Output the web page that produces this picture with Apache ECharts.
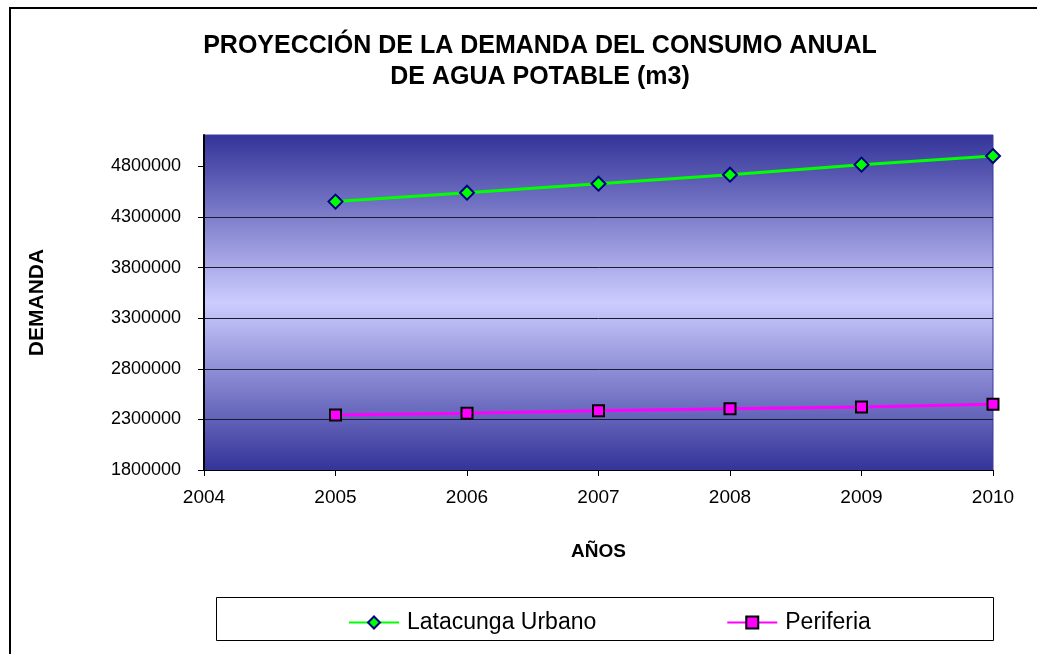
<!DOCTYPE html>
<html>
<head>
<meta charset="utf-8">
<title>Proyección de la demanda de agua potable</title>
<script src="https://cdn.jsdelivr.net/npm/echarts@6/dist/echarts.min.js"></script>
<style>
  html, body { margin: 0; padding: 0; background: #ffffff; }
  #chart { width: 1037px; height: 654px; }
</style>
</head>
<body>
<div id="chart"></div>
<script>
// Years of the projection
const years = [2005, 2006, 2007, 2008, 2009, 2010];
// Annual demand (m3)
const latacungaUrbano = [4452000, 4540000, 4629000, 4718000, 4817000, 4902000];
const periferia = [2344000, 2360000, 2385000, 2405000, 2423000, 2449000];
// Axis tick labels
const yTicks = [1800000, 2300000, 2800000, 3300000, 3800000, 4300000, 4800000];
const xTicks = [2004, 2005, 2006, 2007, 2008, 2009, 2010];

const FONT = '"Liberation Sans", Arial, sans-serif';

const chart = echarts.init(document.getElementById('chart'), null, { renderer: 'canvas' });

const plotBg = new echarts.graphic.LinearGradient(0, 0, 0, 1, [
  { offset: 0, color: '#333399' },
  { offset: 0.5, color: '#ccccff' },
  { offset: 1, color: '#333399' }
]);

chart.setOption({
  animation: false,
  backgroundColor: '#ffffff',
  textStyle: { fontFamily: FONT },
  title: {
    text: 'PROYECCIÓN DE LA DEMANDA DEL CONSUMO ANUAL\nDE AGUA POTABLE (m3)',
    left: 535,
    top: 26,
    textAlign: 'center',
    textStyle: {
      fontFamily: FONT,
      fontSize: 25,
      fontWeight: 'bold',
      color: '#000000',
      lineHeight: 31
    }
  },
  graphic: [
    {
      type: 'rect',
      z: -10,
      silent: true,
      shape: { x: 10, y: 8, width: 1200, height: 800 },
      style: { fill: null, stroke: '#000000', lineWidth: 2 }
    },
    {
      type: 'rect',
      z: -5,
      silent: true,
      shape: { x: 216.5, y: 597.5, width: 777, height: 43 },
      style: { fill: '#ffffff', stroke: '#000000', lineWidth: 1 }
    }
  ],
  grid: {
    left: 204,
    right: 44,
    top: 135,
    bottom: 184,
    show: true,
    backgroundColor: plotBg,
    borderColor: '#3a3aa0',
    borderWidth: 1
  },
  legend: {
    left: 343,
    top: 606,
    itemWidth: 50,
    itemHeight: 15,
    itemGap: 130,
    textStyle: { fontFamily: FONT, fontSize: 23, color: '#000000', padding: [0, 0, 0, 3] },
    data: ['Latacunga Urbano', 'Periferia']
  },
  xAxis: {
    type: 'value',
    min: 2004,
    max: 2010,
    interval: 1,
    name: 'AÑOS',
    nameLocation: 'middle',
    nameGap: 72,
    nameTextStyle: { fontFamily: FONT, fontSize: 19, fontWeight: 'bold', color: '#000000' },
    axisLine: { show: true, lineStyle: { color: '#000000', width: 1 } },
    axisTick: { show: true, length: 6, lineStyle: { color: '#000000' }, customValues: xTicks },
    axisLabel: {
      fontFamily: FONT,
      fontSize: 19,
      color: '#000000',
      margin: 18,
      customValues: xTicks,
      formatter: v => String(v)
    },
    splitLine: { show: false }
  },
  yAxis: {
    type: 'value',
    min: 1800000,
    max: 5110000,
    interval: 500000,
    name: 'DEMANDA',
    nameLocation: 'middle',
    nameGap: 156,
    nameRotate: 90,
    nameTextStyle: { fontFamily: FONT, fontSize: 21, fontWeight: 'bold', color: '#000000' },
    axisLine: { show: true, lineStyle: { color: '#000000', width: 2 } },
    axisTick: { show: true, length: 6, lineStyle: { color: '#000000' }, customValues: yTicks },
    axisLabel: {
      fontFamily: FONT,
      fontSize: 18,
      color: '#000000',
      margin: 23,
      customValues: yTicks,
      formatter: v => String(v)
    },
    splitLine: {
      show: true,
      showMaxLine: false,
      lineStyle: { color: '#1a1a33', width: 1 }
    }
  },
  series: [
    {
      name: 'Latacunga Urbano',
      type: 'line',
      data: years.map((y, i) => [y, latacungaUrbano[i]]),
      symbol: 'diamond',
      symbolSize: 14,
      lineStyle: { color: '#00ff00', width: 3 },
      itemStyle: { color: '#00ff00', borderColor: '#000080', borderWidth: 2 },
      z: 3
    },
    {
      name: 'Periferia',
      type: 'line',
      data: years.map((y, i) => [y, periferia[i]]),
      symbol: 'rect',
      symbolSize: 11,
      lineStyle: { color: '#ff00ff', width: 3 },
      itemStyle: { color: '#ff00ff', borderColor: '#000000', borderWidth: 2 },
      z: 3
    }
  ]
});
</script>
</body>
</html>
